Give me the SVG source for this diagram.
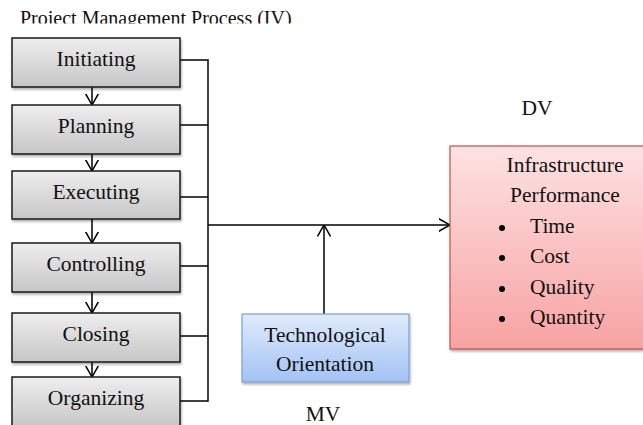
<svg xmlns="http://www.w3.org/2000/svg" width="643" height="425" viewBox="0 0 643 425" font-family="'Liberation Serif', serif">
<style>
.t{font-family:"Liberation Serif",serif;fill:#111;}
.lbl{font-family:"Liberation Serif",serif;font-size:21.5px;text-anchor:middle;fill:#111;}
.proc{fill:url(#gGray);stroke:#1a1a1a;stroke-width:1.5;filter:url(#sh);}
.ln{fill:none;stroke:#000;stroke-width:1.5;}
</style>
<defs>
<linearGradient id="gGray" x1="0" y1="0" x2="0" y2="1"><stop offset="0" stop-color="#eeeeee"/><stop offset="1" stop-color="#c6c6c6"/></linearGradient>
<linearGradient id="gBlue" x1="0" y1="0" x2="0" y2="1"><stop offset="0" stop-color="#e0ebfc"/><stop offset="1" stop-color="#a3c2f4"/></linearGradient>
<linearGradient id="gRed" x1="0" y1="0" x2="0" y2="1"><stop offset="0" stop-color="#fde2e2"/><stop offset="1" stop-color="#f8a2a2"/></linearGradient>
<filter id="sh" x="-10%" y="-10%" width="130%" height="140%"><feDropShadow dx="1" dy="2" stdDeviation="1.2" flood-color="#000" flood-opacity="0.3"/></filter>
<marker id="arr" viewBox="0 0 12 14" refX="11.5" refY="7" markerWidth="12" markerHeight="14" markerUnits="userSpaceOnUse" orient="auto"><path d="M0,0.5 L11.5,7 L0,13.5" fill="none" stroke="#000" stroke-width="1.5"/></marker>
<clipPath id="titleClip"><rect x="0" y="0" width="643" height="23.5"/></clipPath>
</defs>

<text class="t" x="20" y="25" font-size="20px" clip-path="url(#titleClip)">Project Management Process (IV)</text>

<g id="connectors">
<path class="ln" d="M92,87 V105" marker-end="url(#arr)"/>
<path class="ln" d="M92,154 V171" marker-end="url(#arr)"/>
<path class="ln" d="M92,219 V243" marker-end="url(#arr)"/>
<path class="ln" d="M92,292 V313" marker-end="url(#arr)"/>
<path class="ln" d="M92,362 V377" marker-end="url(#arr)"/>
<path class="ln" d="M180,60 H208 V401 H180"/>
<path class="ln" d="M180,125 H208"/>
<path class="ln" d="M180,197 H208"/>
<path class="ln" d="M180,266 H208"/>
<path class="ln" d="M180,336 H208"/>
<path class="ln" d="M208,225 H450" marker-end="url(#arr)"/>
<path class="ln" d="M324,314 V225" marker-end="url(#arr)"/>
</g>

<g id="initiating"><rect class="proc" x="12" y="38" width="168" height="49"/><text class="lbl" x="96" y="66">Initiating</text></g>
<g id="planning"><rect class="proc" x="12" y="105" width="168" height="49"/><text class="lbl" x="96" y="133">Planning</text></g>
<g id="executing"><rect class="proc" x="12" y="171" width="168" height="48"/><text class="lbl" x="96" y="199">Executing</text></g>
<g id="controlling"><rect class="proc" x="12" y="243" width="168" height="49"/><text class="lbl" x="96" y="271">Controlling</text></g>
<g id="closing"><rect class="proc" x="12" y="313" width="168" height="49"/><text class="lbl" x="96" y="341">Closing</text></g>
<g id="organizing"><rect class="proc" x="12" y="377" width="168" height="50"/><text class="lbl" x="96" y="405">Organizing</text></g>

<g id="mv"><rect x="242" y="314" width="167" height="68" fill="url(#gBlue)" stroke="#7c9fd6" stroke-width="1.2" filter="url(#sh)"/>
<text class="lbl" x="325" y="342">Technological</text><text class="lbl" x="325" y="371">Orientation</text></g>
<text class="lbl" x="323" y="421" font-size="20px">MV</text>

<g id="dv"><rect x="450" y="146" width="200" height="203" fill="url(#gRed)" stroke="#c0504d" stroke-width="1.2" filter="url(#sh)"/>
<text class="lbl" x="565" y="172">Infrastructure</text>
<text class="lbl" x="565" y="202">Performance</text>
<circle cx="502" cy="228" r="3"/><text class="t" x="530" y="233" font-size="21.5px">Time</text>
<circle cx="502" cy="258" r="3"/><text class="t" x="530" y="263" font-size="21.5px">Cost</text>
<circle cx="502" cy="289" r="3"/><text class="t" x="530" y="294" font-size="21.5px">Quality</text>
<circle cx="502" cy="319" r="3"/><text class="t" x="530" y="324" font-size="21.5px">Quantity</text></g>
<text class="lbl" x="537" y="115" font-size="20px">DV</text>
</svg>
